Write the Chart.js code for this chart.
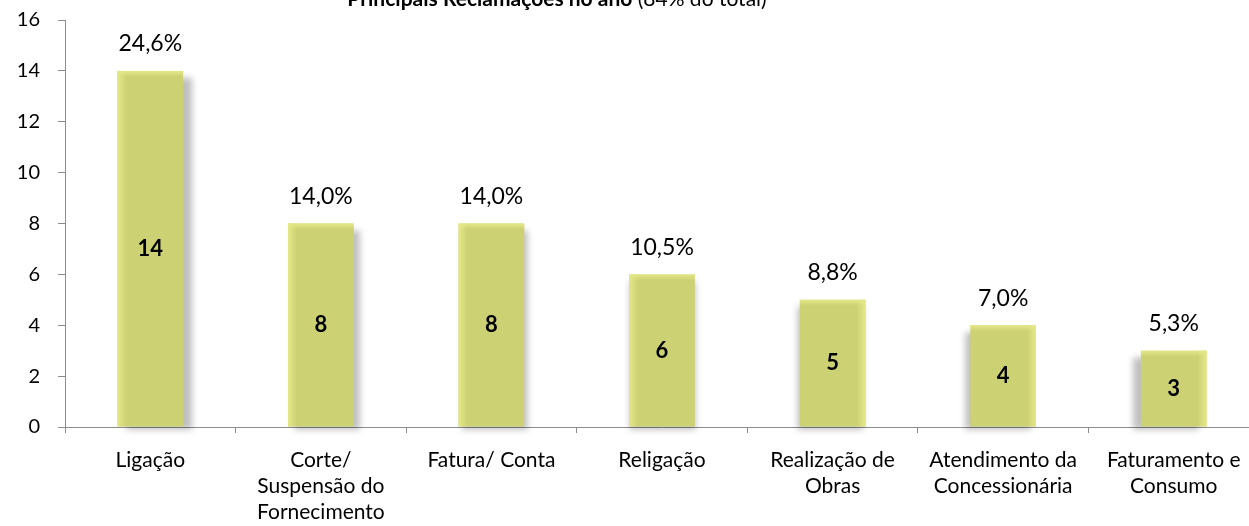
<!DOCTYPE html>
<html>
<head>
<meta charset="utf-8">
<script src="https://cdn.jsdelivr.net/npm/chart.js@4"></script>
<style>
	html, body { margin: 0; padding: 0; background: #fff; overflow: hidden; }
	#caixa { position: absolute; left: 0; top: -30px; width: 1262px; height: 556px; }
</style>
</head>
<body>
<div id="caixa"><canvas id="grafico"></canvas></div>
<script>
const categorias = [
	'Ligação',
	['Corte/', 'Suspensão do', 'Fornecimento'],
	'Fatura/ Conta',
	'Religação',
	['Realização de', 'Obras'],
	['Atendimento da', 'Concessionária'],
	['Faturamento e', 'Consumo']
];
const reclamacoes = [14, 8, 8, 6, 5, 4, 3];
const percentuais = ['24,6%', '14,0%', '14,0%', '10,5%', '8,8%', '7,0%', '5,3%'];
const tituloNegrito = 'Principais Reclamações no ano';
const tituloNormal = ' (84% do total)';
const maxY = 16;
const passoY = 2;

const fonte = 'Lato, "Open Sans", sans-serif';
const deslocTopo = 30; // canvas sobe 30px

// sombra cinza atras das barras
const sombras = {
	id: 'sombras',
	beforeDatasetsDraw(chart) {
		const ctx = chart.ctx;
		const meio = 700;
		chart.getDatasetMeta(0).data.forEach(barra => {
			const { x, y, base, width } = barra.getProps(['x', 'y', 'base', 'width'], true);
			const off = (meio - x) / 550 * 9;
			ctx.save();
			ctx.filter = 'blur(3px)';
			ctx.fillStyle = 'rgba(0,0,0,0.25)';
			ctx.fillRect(x - width / 2 + off, y + 7, width, base - y - 4);
			ctx.restore();
		});
	}
};

// brilho na borda + rotulos
const rotulos = {
	id: 'rotulos',
	afterDatasetsDraw(chart) {
		const ctx = chart.ctx;
		const meio = 700;
		chart.getDatasetMeta(0).data.forEach((barra, i) => {
			const { x, y, base, width } = barra.getProps(['x', 'y', 'base', 'width'], true);
			const esq = x - width / 2, dir = x + width / 2;
			ctx.save();
			let g;
			if (x < meio) {
				g = ctx.createLinearGradient(esq, 0, esq + 9, 0);
			} else {
				g = ctx.createLinearGradient(dir, 0, dir - 9, 0);
			}
			g.addColorStop(0, 'rgba(228,232,135,1)');
			g.addColorStop(1, 'rgba(228,232,135,0)');
			ctx.fillStyle = g;
			ctx.fillRect(esq, y, width, base - y);
			const gt = ctx.createLinearGradient(0, y, 0, y + 6);
			gt.addColorStop(0, 'rgba(228,232,135,1)');
			gt.addColorStop(1, 'rgba(228,232,135,0)');
			ctx.fillStyle = gt;
			ctx.fillRect(esq, y, width, 6);

			ctx.fillStyle = '#000';
			ctx.textAlign = 'center';
			ctx.textBaseline = 'middle';
			ctx.font = 'bold 22px ' + fonte;
			ctx.fillText(String(reclamacoes[i]), x, (y + base) / 2);
			ctx.font = '23px ' + fonte;
			ctx.fillText(percentuais[i], x, y - 27);
			ctx.restore();
		});
	}
};

// titulo cortado no topo
const titulo = {
	id: 'titulo',
	afterDraw(chart) {
		const ctx = chart.ctx;
		ctx.save();
		ctx.fillStyle = '#000';
		ctx.textBaseline = 'alphabetic';
		ctx.font = 'bold 21px ' + fonte;
		const w1 = ctx.measureText(tituloNegrito).width;
		ctx.font = '21px ' + fonte;
		const w2 = ctx.measureText(tituloNormal).width;
		const x0 = 557 - (w1 + w2) / 2;
		const yb = deslocTopo + 6;
		ctx.font = 'bold 21px ' + fonte;
		ctx.textAlign = 'left';
		ctx.fillText(tituloNegrito, x0, yb);
		ctx.font = '21px ' + fonte;
		ctx.fillText(tituloNormal, x0 + w1, yb);
		ctx.restore();
	}
};

new Chart(document.getElementById('grafico'), {
	type: 'bar',
	data: {
		labels: categorias,
		datasets: [{
			label: 'Reclamações',
			data: reclamacoes,
			backgroundColor: '#ccd174',
			borderWidth: 0,
			categoryPercentage: 1,
			barPercentage: 0.385
		}]
	},
	options: {
		responsive: true,
		maintainAspectRatio: false,
		animation: false,
		layout: { padding: { top: deslocTopo + 20, right: 3, left: 0, bottom: 0 } },
		plugins: {
			legend: { display: false },
			tooltip: { enabled: false }
		},
		scales: {
			x: {
				grid: { display: true, drawOnChartArea: false, offset: true, tickLength: 6, color: '#8c8c8c' },
				border: { color: '#8c8c8c' },
				ticks: { color: '#000', font: { family: fonte, size: 21, lineHeight: 1.24 }, padding: 14, maxRotation: 0, autoSkip: false },
				afterFit(s) { s.height = 99; }
			},
			y: {
				min: 0,
				max: maxY,
				grid: { display: true, drawOnChartArea: false, tickLength: 7, color: '#8c8c8c' },
				border: { color: '#8c8c8c' },
				ticks: { stepSize: passoY, color: '#000', font: { family: fonte, size: 20 }, padding: 18 },
				afterFit(s) { s.width = 65; }
			}
		}
	},
	plugins: [sombras, rotulos, titulo]
});
</script>
</body>
</html>
